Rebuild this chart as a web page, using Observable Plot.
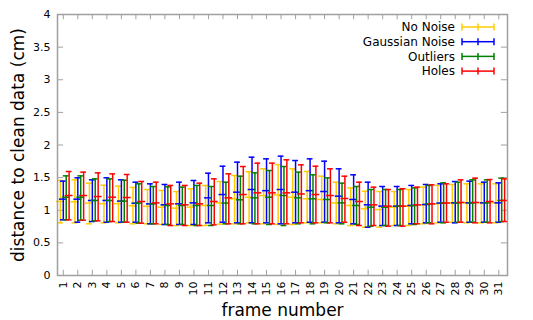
<!DOCTYPE html>
<html><head><meta charset="utf-8">
<script src="https://cdn.jsdelivr.net/npm/d3@7"></script>
<script src="https://cdn.jsdelivr.net/npm/@observablehq/plot@0.6"></script>
<style>body{margin:0;background:#fff} #chart{width:533px;height:320px}</style>
</head><body><div id="chart"></div>
<script>
const frames = [1,2,3,4,5,6,7,8,9,10,11,12,13,14,15,16,17,18,19,20,21,22,23,24,25,26,27,28,29,30,31];
const yTicks = [0,0.5,1,1.5,2,2.5,3,3.5,4];
const seriesNames = ["No Noise","Gaussian Noise","Outliers","Holes"];
const seriesColors = ["#ffcc00","#0000ff","#008000","#ff0000"];

const noNoiseHigh = [1.456,1.466,1.415,1.384,1.369,1.349,1.318,1.303,1.287,1.328,1.38,1.44,1.533,1.59,1.635,1.70,1.635,1.594,1.522,1.43,1.343,1.292,1.287,1.287,1.318,1.354,1.38,1.395,1.405,1.405,1.405];
const noNoiseMean = [1.134,1.13,1.11,1.10,1.10,1.07,1.06,1.047,1.032,1.047,1.073,1.113,1.175,1.2,1.226,1.236,1.2,1.175,1.165,1.113,1.073,1.022,1.01,1.047,1.063,1.083,1.1,1.113,1.113,1.113,1.113];
const noNoiseLow = [0.807,0.807,0.792,0.807,0.807,0.792,0.792,0.782,0.766,0.766,0.766,0.787,0.792,0.807,0.792,0.782,0.782,0.807,0.807,0.792,0.766,0.74,0.74,0.766,0.766,0.792,0.807,0.817,0.807,0.807,0.807];

const gaussianHigh = [1.446,1.497,1.466,1.497,1.466,1.43,1.405,1.395,1.43,1.456,1.568,1.675,1.737,1.813,1.788,1.829,1.762,1.788,1.752,1.635,1.543,1.43,1.364,1.364,1.38,1.395,1.405,1.44,1.446,1.43,1.42];
const gaussianMean = [1.17,1.17,1.15,1.15,1.14,1.108,1.098,1.083,1.098,1.113,1.19,1.241,1.277,1.318,1.3,1.318,1.277,1.3,1.287,1.216,1.165,1.083,1.063,1.063,1.073,1.088,1.11,1.113,1.113,1.113,1.113];
const gaussianLow = [0.853,0.817,0.827,0.817,0.817,0.817,0.792,0.782,0.782,0.782,0.807,0.817,0.807,0.807,0.807,0.792,0.807,0.817,0.817,0.807,0.792,0.74,0.766,0.766,0.792,0.807,0.817,0.807,0.817,0.817,0.817];

const outliersHigh = [1.527,1.527,1.481,1.481,1.46,1.405,1.364,1.359,1.354,1.38,1.364,1.43,1.522,1.573,1.609,1.67,1.584,1.543,1.497,1.415,1.364,1.318,1.318,1.318,1.343,1.38,1.42,1.43,1.466,1.466,1.492];
const outliersMean = [1.20,1.20,1.15,1.15,1.14,1.11,1.098,1.073,1.073,1.073,1.073,1.11,1.16,1.19,1.2,1.226,1.19,1.175,1.165,1.113,1.073,1.047,1.047,1.063,1.073,1.098,1.11,1.113,1.113,1.113,1.15];
const outliersLow = [0.853,0.848,0.838,0.827,0.82,0.802,0.792,0.782,0.782,0.766,0.766,0.792,0.792,0.792,0.782,0.766,0.792,0.792,0.807,0.792,0.782,0.756,0.766,0.766,0.782,0.807,0.807,0.817,0.817,0.817,0.827];

const holesHigh = [1.594,1.584,1.573,1.558,1.548,1.441,1.43,1.38,1.38,1.415,1.481,1.558,1.67,1.722,1.722,1.773,1.696,1.675,1.635,1.522,1.43,1.354,1.318,1.33,1.354,1.39,1.405,1.466,1.492,1.471,1.481];
const holesMean = [1.226,1.226,1.21,1.2,1.195,1.134,1.113,1.098,1.083,1.098,1.134,1.19,1.241,1.267,1.267,1.267,1.25,1.241,1.226,1.18,1.134,1.083,1.063,1.063,1.083,1.098,1.11,1.12,1.12,1.134,1.15];
const holesLow = [0.853,0.848,0.838,0.827,0.817,0.802,0.792,0.766,0.766,0.766,0.776,0.792,0.792,0.792,0.792,0.792,0.807,0.807,0.807,0.817,0.766,0.766,0.756,0.756,0.792,0.792,0.817,0.817,0.807,0.807,0.827];

const seriesData = [
  [noNoiseLow, noNoiseMean, noNoiseHigh],
  [gaussianLow, gaussianMean, gaussianHigh],
  [outliersLow, outliersMean, outliersHigh],
  [holesLow, holesMean, holesHigh]
];
const offsets = [-0.2, 0, 0.2, 0.4];
const capHalf = 0.2, meanHalf = 0.27;
const xDomain = [0.6, 31.6];
const axisGray = "#a0a0a0";

const marks = [];
// inward ticks on all four sides
marks.push(Plot.ruleY(yTicks, {y: d => d, x1: xDomain[0], x2: xDomain[0] + 0.42, stroke: axisGray, strokeWidth: 1}));
marks.push(Plot.ruleY(yTicks, {y: d => d, x1: xDomain[1] - 0.42, x2: xDomain[1], stroke: axisGray, strokeWidth: 1}));
marks.push(Plot.ruleX(frames, {x: d => d, y1: 0, y2: 0.08, stroke: axisGray, strokeWidth: 1}));
marks.push(Plot.ruleX(frames, {x: d => d, y1: 3.92, y2: 4, stroke: axisGray, strokeWidth: 1}));

seriesData.forEach(([lo, mid, hi], s) => {
  const rows = frames.map((f, i) => ({x: f + offsets[s], lo: lo[i], mid: mid[i], hi: hi[i]}));
  const c = seriesColors[s];
  marks.push(Plot.ruleX(rows, {x: "x", y1: "lo", y2: "hi", stroke: c, strokeWidth: 1.5}));
  marks.push(Plot.ruleY(rows, {y: "hi", x1: d => d.x - capHalf, x2: d => d.x + capHalf, stroke: c, strokeWidth: 1.5}));
  marks.push(Plot.ruleY(rows, {y: "lo", x1: d => d.x - capHalf, x2: d => d.x + capHalf, stroke: c, strokeWidth: 1.5}));
  marks.push(Plot.ruleY(rows, {y: "mid", x1: d => d.x - meanHalf, x2: d => d.x + meanHalf, stroke: c, strokeWidth: 1.5}));
});

marks.push(Plot.frame({stroke: axisGray, strokeWidth: 1.5}));
marks.push(Plot.axisX({ticks: frames, tickFormat: d => String(d), tickRotate: -90, tickSize: 0, tickPadding: 6, label: null, fontSize: 11}));
marks.push(Plot.axisY({ticks: yTicks, tickFormat: d => String(d), tickSize: 0, tickPadding: 7, label: null, fontSize: 11}));
marks.push(Plot.text(["distance to clean data (cm)"], {frameAnchor: "left", dx: -39, rotate: -90, fontSize: 17, textAnchor: "middle", lineAnchor: "middle", fill: "black"}));
marks.push(Plot.text(["frame number"], {frameAnchor: "bottom", dy: 35, fontSize: 17, textAnchor: "middle", lineAnchor: "middle", fill: "black"}));

const chart = Plot.plot({
  width: 533, height: 320,
  marginLeft: 57, marginRight: 26, marginTop: 14, marginBottom: 45,
  x: {type: "linear", domain: xDomain},
  y: {type: "linear", domain: [0, 4]},
  style: {fontFamily: "DejaVu Sans", fontSize: "11px", background: "white", color: "black"},
  marks
});
document.getElementById("chart").appendChild(chart);

// legend (gnuplot-style key, inside top right)
const svg = d3.select(chart);
const lg = svg.append("g").attr("font-family", "DejaVu Sans").attr("font-size", 12);
seriesNames.forEach((name, i) => {
  const cy = 27 + i * 14.7;
  const c = seriesColors[i];
  lg.append("text").attr("x", 455).attr("y", cy).attr("dy", "0.35em").attr("text-anchor", "end").attr("fill", "black").text(name);
  const g = lg.append("g").attr("stroke", c).attr("stroke-width", 1.5);
  g.append("line").attr("x1", 462).attr("x2", 494).attr("y1", cy).attr("y2", cy);
  g.append("line").attr("x1", 462).attr("x2", 462).attr("y1", cy - 3.5).attr("y2", cy + 3.5);
  g.append("line").attr("x1", 494).attr("x2", 494).attr("y1", cy - 3.5).attr("y2", cy + 3.5);
  g.append("line").attr("x1", 478).attr("x2", 478).attr("y1", cy - 3.5).attr("y2", cy + 3.5);
});
</script></body></html>
